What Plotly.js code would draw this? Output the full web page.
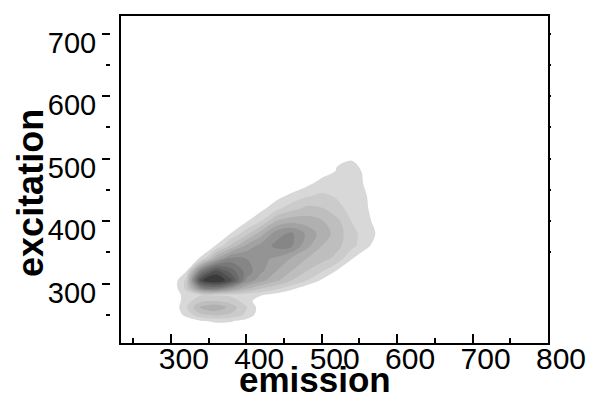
<!DOCTYPE html>
<html>
<head>
<meta charset="utf-8">
<script src="https://cdn.plot.ly/plotly-3.0.1.min.js"></script>
<style>html,body{margin:0;padding:0;background:#fff;}#chart{width:589px;height:401px;}</style>
</head>
<body>
<div id="chart"></div>
<script>
// emission (x) grid, excitation (y) grid, and intensity
const emission = [280,300,320,340,360,380,400,420,440,460,480,500,520,540,560,580,600];
const excitation = [225,240,250,262,272,282,292,305,320,340,360,380,400,420,440,460,480,500,520];
const intensity = [
  [0,0,0,0,0,0,0,0,0,0,0,0,0,0,0,0,0],
  [0,0,0.3,0.9,1.2,1.1,0.6,0,0,0,0,0,0,0,0,0,0],
  [0,0,1.3,2.8,3.2,2.8,1.8,0.3,0,0,0,0,0,0,0,0,0],
  [0,0,1.8,4.2,4.8,3.6,2.1,0.4,0,0,0,0,0,0,0,0,0],
  [0,0,1.5,2.8,3.0,2.5,1.6,0.2,0,0,0,0,0,0,0,0,0],
  [0,0,1.5,1.9,1.9,1.8,1.5,1.1,0.6,0,0,0,0,0,0,0,0],
  [0,0,2.2,7.0,8.0,6.0,4.2,3.0,2.2,1.3,0.3,0,0,0,0,0,0],
  [0,0,2.2,11.8,13.2,11.2,6.8,5.3,4.2,3.0,2.0,0.85,0,0,0,0,0],
  [0,0,0.8,8.0,11.3,9.5,7.6,6.2,5.0,4.0,3.0,2.1,0.9,0,0,0,0],
  [0,0,0,1.2,5.0,7.3,7.0,6.3,5.8,4.9,4.0,3.4,2.7,1.05,0,0,0],
  [0,0,0,0,1.1,3.3,5.3,6.4,7.3,7.1,5.3,4.0,3.3,2.3,1.25,0,0],
  [0,0,0,0,0,1.05,2.6,4.6,6.6,7.2,5.8,4.6,3.6,2.3,1.5,0.6,0],
  [0,0,0,0,0,0,0.85,2.0,4.0,4.6,4.5,4.1,3.3,1.95,1.4,0,0],
  [0,0,0,0,0,0,0,0.7,1.7,2.6,3.3,3.1,2.3,1.7,1.1,0,0],
  [0,0,0,0,0,0,0,0,0.6,1.3,1.9,2.2,1.9,1.6,1.0,0,0],
  [0,0,0,0,0,0,0,0,0,0.1,0.7,1.4,1.6,1.6,0.8,0,0],
  [0,0,0,0,0,0,0,0,0,0,0,0.5,1.05,1.5,0.7,0,0],
  [0,0,0,0,0,0,0,0,0,0,0,0.2,0.9,0.9,0.5,0,0],
  [0,0,0,0,0,0,0,0,0,0,0,0,0.2,0.4,0.2,0,0]
];
const xTickLabels = ['300','400','500','600','700','800'];
const yTickLabels = ['300','400','500','600','700'];
const xTitle = 'emission';
const yTitle = 'excitation';

// grey levels for the 12 filled bands (lightest to darkest)
const greys = [216,203,190,176,162,148,134,120,106,92,78,58];
const nLev = greys.length;
const colorscale = [[0,'rgb(255,255,255)']];
greys.forEach((g,i)=>colorscale.push([(i+1)/nLev,`rgb(${g},${g},${g})`]));

const FONT = '"Liberation Sans", Arial, Helvetica, sans-serif';
const yRange = [205, 728];

const traces = [
  {
    type: 'contour',
    x: emission, y: excitation, z: intensity,
    colorscale: colorscale,
    showscale: false,
    contours: {start: 1, end: nLev, size: 1, coloring: 'fill', showlines: false},
    line: {width: 0, smoothing: 1},
    hoverinfo: 'skip'
  },
  {type: 'scatter', x: [], y: [], yaxis: 'y2', showlegend: false, hoverinfo: 'skip'},
  {type: 'scatter', x: [], y: [], yaxis: 'y3', showlegend: false, hoverinfo: 'skip'}
];

const rightDots = [];
for (let v = 350; v <= 700; v += 50) rightDots.push(v);

const layout = {
  width: 589, height: 401,
  margin: {l: 110, r: 41, t: 16, b: 58},
  paper_bgcolor: '#fff', plot_bgcolor: '#fff',
  showlegend: false,
  font: {family: FONT, color: '#000'},
  xaxis: {
    domain: [11/438, 1],
    range: [234, 800],
    showline: true, linewidth: 2, linecolor: '#000', mirror: true,
    showgrid: false, zeroline: false,
    tickmode: 'array', tickvals: xTickLabels.map(Number), ticktext: xTickLabels,
    ticks: 'inside', ticklen: 9, tickwidth: 2, tickcolor: '#000',
    minor: {dtick: 50, tick0: 250, ticks: 'inside', ticklen: 5, tickwidth: 2, tickcolor: '#000', showgrid: false},
    ticklabelshift: 13,
    ticklabelstandoff: -12,
    tickfont: {size: 30, family: FONT, color: '#000'}
  },
  yaxis: {
    range: yRange,
    showline: true, linewidth: 2, linecolor: '#000', mirror: true,
    showgrid: false, zeroline: false, ticks: '', showticklabels: false
  },
  yaxis2: {
    overlaying: 'y', anchor: 'free', position: 0, side: 'left',
    range: yRange, showline: false, showgrid: false, zeroline: false,
    tickmode: 'array', tickvals: yTickLabels.map(Number), ticktext: yTickLabels,
    ticks: 'outside', ticklen: 8, tickwidth: 2, tickcolor: '#000',
    minor: {dtick: 50, tick0: 250, ticks: 'outside', ticklen: 4, tickwidth: 2, tickcolor: '#000', showgrid: false},
    ticklabelshift: 9,
    tickfont: {size: 29, family: FONT, color: '#000'}
  },
  yaxis3: {
    overlaying: 'y', anchor: 'free', position: 1, side: 'right',
    range: yRange, showline: false, showgrid: false, zeroline: false,
    tickmode: 'array', tickvals: rightDots, showticklabels: false,
    ticks: 'outside', ticklen: 2, tickwidth: 2, tickcolor: '#000'
  },
  annotations: [
    {text: xTitle, xref: 'paper', yref: 'paper', x: 0.469, y: -0.112,
     xanchor: 'center', yanchor: 'middle', showarrow: false,
     font: {size: 35, family: FONT, color: '#000', weight: 'bold'}},
    {text: yTitle, xref: 'paper', yref: 'paper', x: -0.1817, y: 0.4602,
     xanchor: 'center', yanchor: 'middle', showarrow: false, textangle: -90,
     font: {size: 36, family: FONT, color: '#000', weight: 'bold'}}
  ]
};

Plotly.newPlot('chart', traces, layout, {staticPlot: true, displayModeBar: false});
</script>
</body>
</html>
